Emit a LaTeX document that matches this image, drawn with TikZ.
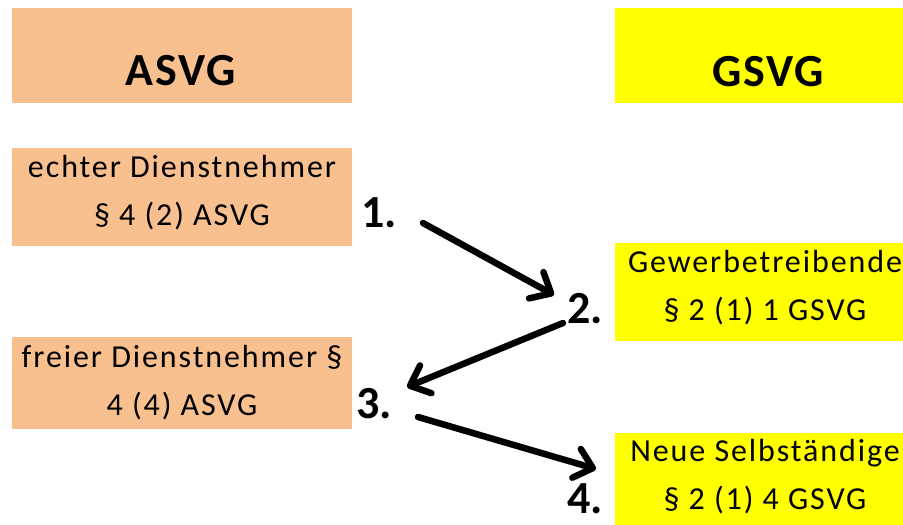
\documentclass[tikz,border=0pt]{standalone}
\usepackage{fontspec}
\setmainfont{Carlito}
\newfontfamily\boxfont{Carlito}[LetterSpace=6]
\newfontfamily\headfont{Carlito}[LetterSpace=4]
\usetikzlibrary{arrows.meta}
\definecolor{peach}{HTML}{F8C08F}
\definecolor{yel}{HTML}{FFFF00}
\tikzset{
  box/.style={rectangle, draw=none, inner sep=0pt, anchor=north west},
  asvgbox/.style={box, fill=peach},
  gsvgbox/.style={box, fill=yel},
  head/.style={anchor=base, inner sep=0pt, font=\headfont\bfseries\fontsize{46}{50}\selectfont},
  txt/.style={anchor=base, inner sep=0pt, align=center, font=\boxfont\fontsize{32}{48}\selectfont},
  num/.style={anchor=base, inner sep=0pt, font=\bfseries\fontsize{46}{50}\selectfont},
  conn/.style={line width=6.5pt, line cap=round, line join=round, -{Straight Barb[length=17pt,width=30pt,line cap=round,line join=round]}}
}
\begin{document}
\begin{tikzpicture}[x=1pt,y=-1pt]
\useasboundingbox (0,0) rectangle (903,525);
% boxes
\node[asvgbox, minimum width=340pt, minimum height=95pt] (hA) at (12,8) {};
\node[gsvgbox, minimum width=300pt, minimum height=95pt] (hG) at (615,8) {};
\node[asvgbox, minimum width=340pt, minimum height=98pt] (bA1) at (12,148) {};
\node[asvgbox, minimum width=340pt, minimum height=92pt] (bA2) at (12,337) {};
\node[gsvgbox, minimum width=300pt, minimum height=98pt] (bG1) at (615,243) {};
\node[gsvgbox, minimum width=300pt, minimum height=98pt] (bG2) at (615,433) {};
% headers
\node[head] (tA) at (181,85) {ASVG};
\node[head] (tG) at (768,86) {GSVG};
% box texts (anchored at the baseline of the last line)
\node[txt] (tA1) at (182,225) {echter Dienstnehmer\\§ 4 (2) ASVG};
\node[txt] (tA2) at (182,415) {freier Dienstnehmer §\\4 (4) ASVG};
\node[txt] (tG1) at (765,320) {Gewerbetreibende\\§ 2 (1) 1 GSVG};
\node[txt] (tG2) at (765,509) {Neue Selbständige\\§ 2 (1) 4 GSVG};
% numbers
\node[num] (n1) at (379,227) {1.};
\node[num] (n2) at (585,323) {2.};
\node[num] (n3) at (374,418) {3.};
\node[num] (n4) at (585,513) {4.};
% arrow end points
\coordinate (s1) at (423,223);
\coordinate (e1) at (554,295);
\coordinate (s2) at (563,323);
\coordinate (e2) at (407,387);
\coordinate (s3) at (418,417);
\coordinate (e3) at (596,469);
\draw[conn] (s1) -- (e1);
\draw[conn] (s2) -- (e2);
\draw[conn] (s3) -- (e3);
\end{tikzpicture}
\end{document}
